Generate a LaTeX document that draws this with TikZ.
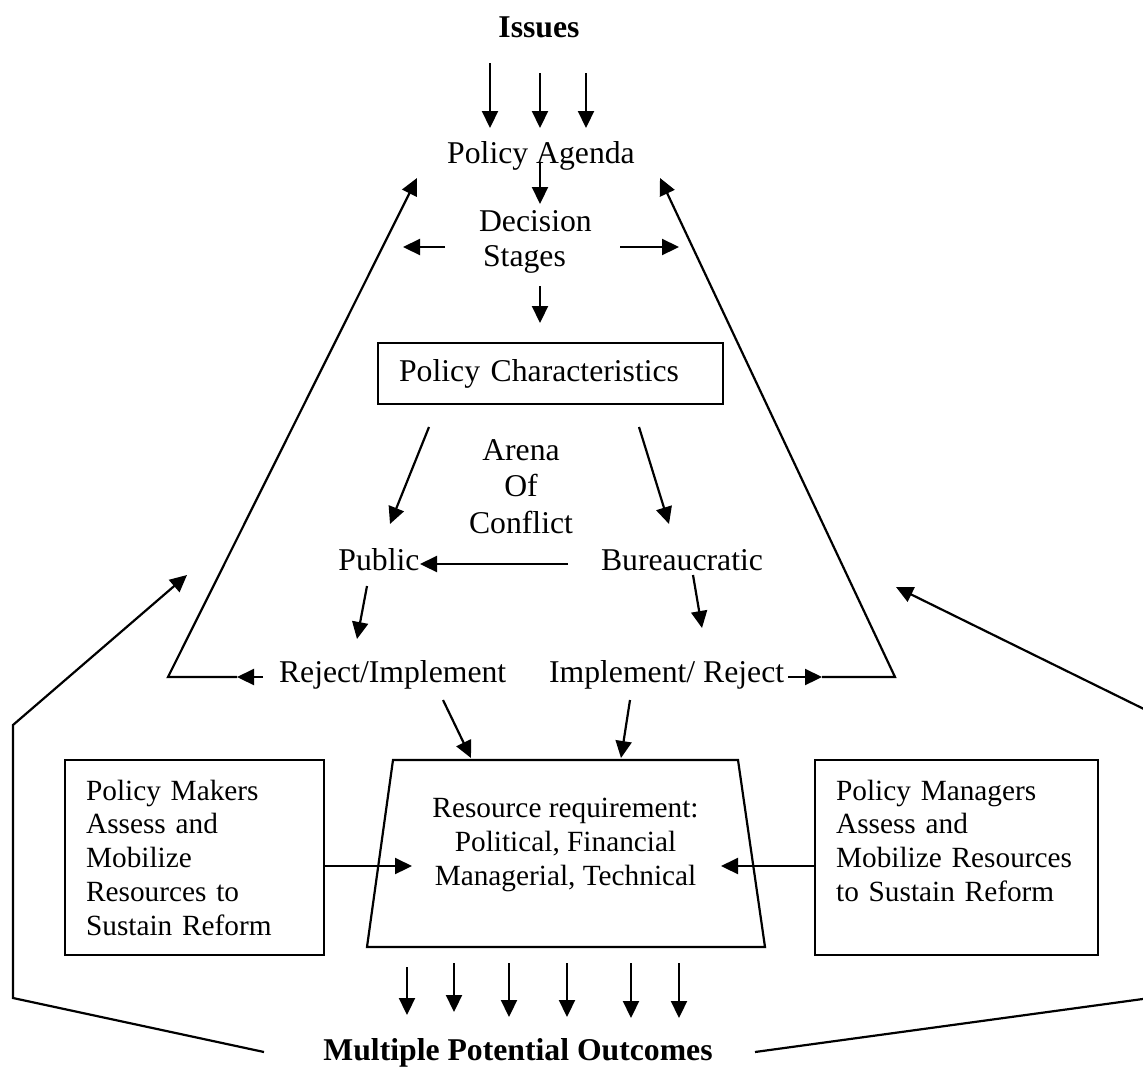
\documentclass[tikz,border=0pt]{standalone}
\usepackage{fontspec}
\setmainfont{Liberation Serif}
\usetikzlibrary{arrows.meta}
\begin{document}
\begin{tikzpicture}[x=1pt,y=-1pt,
  line width=2.2pt,
  tip/.style={-{Triangle[length=17pt,width=16pt]}},
  big/.style={font=\fontsize{31.7}{36.5}\selectfont, inner sep=0pt},
  bigb/.style={font=\fontsize{31.7}{36.5}\selectfont\bfseries, inner sep=0pt},
  small/.style={font=\fontsize{29.3}{33.8}\selectfont, inner sep=0pt},
  panel/.style={draw, small, anchor=north west, inner xsep=21pt, inner ysep=0pt,
                minimum height=195pt, align=left}]
\useasboundingbox (0,0) rectangle (1143,1066);

% ---- texts and boxes ----
\node[bigb, anchor=base] (issues) at (539,37) {Issues};
\node[big, anchor=base] (agenda) at (541,163) {Policy Agenda};
\node[big, anchor=base west] (decision) at (478,231) {Decision};
\node[big, anchor=base west] (stages) at (482,266) {Stages};
\node[draw, big, anchor=north west, minimum width=345pt, minimum height=61pt,
      inner xsep=21pt, text width=303pt, align=left] (pchar) at (377,342) {Policy Characteristics};
\node[big, align=center, anchor=north] (arena) at (521,438) {Arena\\Of\\Conflict};
\node[big, anchor=base] (public) at (379,570) {Public};
\node[big, anchor=base] (bureau) at (682,570) {Bureaucratic};
\node[big, anchor=base west] (reject) at (278,682) {Reject/Implement};
\node[big, anchor=base west] (implement) at (548,682) {Implement/ Reject};

\node[panel, minimum width=259pt, text width=217pt] (makers) at (64,759)
  {Policy Makers\\Assess and\\Mobilize\\Resources to\\Sustain Reform};
\node[panel, minimum width=283pt, text width=241pt] (managers) at (814,759)
  {Policy Managers\\Assess and\\Mobilize Resources\\to Sustain Reform\\\mbox{}};

% resource trapezium
\coordinate (rtl) at (393,760);
\coordinate (rtr) at (738,760);
\coordinate (rbr) at (765,947);
\coordinate (rbl) at (367,947);
\draw (rtl) -- (rtr) -- (rbr) -- (rbl) -- cycle;
\node[small, align=center, anchor=north] (res) at (565.5,797)
  {Resource requirement:\\Political, Financial\\Managerial, Technical};

\node[bigb, anchor=base] (outcomes) at (518,1060) {Multiple Potential Outcomes};

% ---- issues feeding the agenda ----
\foreach \x/\t in {490/63, 540/73, 586/73}
  \draw[tip] (\x,\t) -- (\x,128);

% ---- agenda to decision stages ----
\coordinate (pa1) at (540,162);  \coordinate (pa2) at (540,204);
\draw[tip] (pa1) -- (pa2);
\coordinate (dl1) at (445,247);  \coordinate (dl2) at (403,247);
\draw[tip] (dl1) -- (dl2);
\coordinate (dr1) at (620,247);  \coordinate (dr2) at (679,247);
\draw[tip] (dr1) -- (dr2);
\coordinate (ds1) at (540,286);  \coordinate (ds2) at (540,323);
\draw[tip] (ds1) -- (ds2);

% ---- arena of conflict ----
\coordinate (cp1) at (429,427);  \coordinate (cp2) at (390,524);
\draw[tip] (cp1) -- (cp2);
\coordinate (cb1) at (639,427);  \coordinate (cb2) at (669,524);
\draw[tip] (cb1) -- (cb2);
\coordinate (bp1) at (568,564);  \coordinate (bp2) at (420,564);
\draw[tip] (bp1) -- (bp2);
\coordinate (pr1) at (367,586);  \coordinate (pr2) at (357,639);
\draw[tip] (pr1) -- (pr2);
\coordinate (bi1) at (693,575);  \coordinate (bi2) at (702,628);
\draw[tip] (bi1) -- (bi2);

% ---- feedback to the agenda ----
\coordinate (lf1) at (263,677);  \coordinate (lf2) at (237,677);
\coordinate (lfc) at (168,677);  \coordinate (lft) at (417,178);
\draw[tip] (lf1) -- (lf2);
\draw[tip] (lf2) -- (lfc) -- (lft);
\coordinate (rf1) at (788,677);  \coordinate (rf2) at (822,677);
\coordinate (rfc) at (895,677);  \coordinate (rft) at (660,178);
\draw[tip] (rf1) -- (rf2);
\draw[tip] (rf2) -- (rfc) -- (rft);

% ---- into resource requirement ----
\coordinate (rj1) at (443,700);  \coordinate (rj2) at (471,758);
\draw[tip] (rj1) -- (rj2);
\coordinate (im1) at (630,700);  \coordinate (im2) at (621,758);
\draw[tip] (im1) -- (im2);
\coordinate (mk2) at (412,866);
\draw[tip] (makers.east |- mk2) -- (mk2);
\coordinate (mg2) at (721,866);
\draw[tip] (managers.west |- mg2) -- (mg2);

% ---- outcomes ----
\foreach \x/\t/\b in {407/967/1015, 454/963/1012, 509/963/1017,
                      567/963/1017, 631/963/1018, 679/963/1018}
  \draw[tip] (\x,\t) -- (\x,\b);

% ---- outer feedback loops ----
\coordinate (ol1) at (264,1052); \coordinate (ol2) at (13,998);
\coordinate (ol3) at (13,725);   \coordinate (ol4) at (187,575);
\draw[tip] (ol1) -- (ol2) -- (ol3) -- (ol4);
\coordinate (or1) at (755,1052); \coordinate (or2) at (1150,998);
\coordinate (or3) at (1150,712); \coordinate (or4) at (896,587);
\draw[tip] (or1) -- (or2) -- (or3) -- (or4);
\end{tikzpicture}
\end{document}
